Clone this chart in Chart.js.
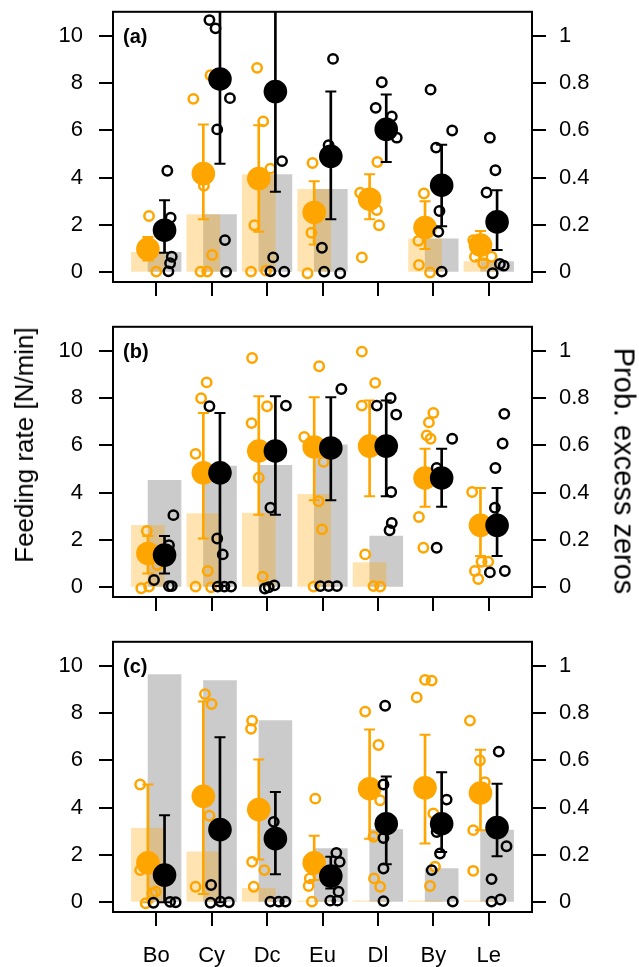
<!DOCTYPE html>
<html>
<head>
<meta charset="utf-8">
<script src="https://cdn.jsdelivr.net/npm/chart.js@4.4.1/dist/chart.umd.min.js"></script>
<style>
  html, body { margin: 0; padding: 0; background: #fff; }
  #wrap { position: relative; width: 639px; height: 967px; font-family: "Liberation Sans", Arial, sans-serif; color: #000; }
  #wrap canvas { position: absolute; left: 0; }
  .tag { position: absolute; left: 123px; font-size: 20px; font-weight: bold; line-height: 20px; }
  .ytitle { position: absolute; line-height: 1; white-space: nowrap; }
</style>
</head>
<body>
<div id="wrap">
  <canvas id="pa" width="639" height="315" style="top:0px"></canvas>
  <canvas id="pb" width="639" height="315" style="top:315px"></canvas>
  <canvas id="pc" width="639" height="337" style="top:630px"></canvas>
  <div class="tag" style="top:26px">(a)</div>
  <div class="tag" style="top:341px">(b)</div>
  <div class="tag" style="top:656px">(c)</div>
  <div class="ytitle" style="font-size:26px; left:24px; top:445px; transform:translate(-50%,-50%) rotate(-90deg)">Feeding rate [N/min]</div>
  <div class="ytitle" style="font-size:29px; left:624px; top:471px; transform:translate(-50%,-50%) rotate(90deg)">Prob. excess zeros</div>
</div>
<script>
const categories = ["Bo", "Cy", "Dc", "Eu", "Dl", "By", "Le"];
const leftTicks = [0, 2, 4, 6, 8, 10];
const rightTicks = [0, 0.2, 0.4, 0.6, 0.8, 1];
const rightTickLabels = ["0", "0.2", "0.4", "0.6", "0.8", "1"];

// --- panel (a) ---
const barOrangeA = [0.084, 0.244, 0.413, 0.351, 0, 0.141, 0.045];
const barGrayA = [0.084, 0.244, 0.413, 0.351, 0, 0.141, 0.045];
const meanOrangeA = [0.98, 4.17, 3.96, 2.53, 3.09, 1.89, 1.15];
const lowOrangeA = [0.50, 2.24, 1.71, 1.17, 2.24, 0.98, 0.52];
const highOrangeA = [1.49, 6.25, 6.22, 3.85, 4.14, 3.00, 1.75];
const meanBlackA = [1.78, 8.17, 7.64, 4.90, 6.04, 3.68, 2.13];
const lowBlackA = [0.83, 4.59, 3.40, 2.24, 4.66, 1.95, 0.94];
const highBlackA = [3.05, 12.5, 12.5, 7.64, 7.51, 5.39, 3.47];
const rawOrangeA = [
  [0.87, 2.38], [1.00, 0.03], [0.77, 1.00], [0.85, 0.80],
  [1.67, 7.33], [1.98, 8.33], [1.86, 3.66], [2.01, 0.73], [1.80, 0.03], [1.92, 0.03],
  [2.82, 8.64], [2.93, 6.38], [3.06, 4.38], [2.77, 1.99], [2.71, 0.03], [2.98, 0.07],
  [3.82, 4.62], [3.80, 1.67], [3.73, -0.04],
  [4.68, 3.36], [4.98, 2.63], [5.02, 1.99], [4.71, 0.63], [4.99, 4.66],
  [5.83, 3.33], [5.73, 1.33], [5.74, 0.31], [5.94, -0.01],
  [6.72, 1.36], [6.75, 0.66], [6.90, 0.38], [7.05, 0.66], [6.85, 1.20]
];
const rawBlackA = [
  [1.20, 4.29], [1.26, 2.31], [1.28, 0.66], [1.25, 0.38], [1.22, 0.04],
  [1.96, 10.66], [2.07, 10.31], [2.33, 7.36], [2.10, 6.04], [2.24, 1.36], [2.26, 0.02],
  [3.27, 4.70], [3.11, 0.63], [3.06, 0.04], [3.31, 0.03],
  [4.19, 9.02], [4.11, 5.37], [3.99, 1.04], [4.03, 0.03], [4.32, -0.04],
  [5.07, 8.03], [4.96, 6.95], [5.25, 6.59], [5.34, 5.69],
  [5.95, 7.72], [6.34, 5.99], [6.05, 5.27], [6.11, 2.59], [6.09, 1.71], [6.15, 0.03],
  [7.02, 5.69], [7.12, 4.31], [6.96, 3.37], [7.20, 0.35], [7.27, 0.28], [7.07, -0.04]
];

// --- panel (b) ---
const barOrangeB = [0.262, 0.312, 0.314, 0.393, 0.105, 0, 0];
const barGrayB = [0.452, 0.512, 0.515, 0.602, 0.217, 0, 0];
const meanOrangeB = [1.43, 4.84, 5.76, 5.93, 5.97, 4.62, 2.62];
const lowOrangeB = [0.58, 2.06, 3.07, 3.68, 3.85, 3.40, 1.32];
const highOrangeB = [2.17, 7.37, 8.07, 8.03, 7.90, 5.86, 4.20];
const meanBlackB = [1.36, 4.84, 5.76, 5.89, 5.97, 4.62, 2.62];
const lowBlackB = [0.58, 0.05, 3.07, 3.68, 3.85, 3.40, 1.32];
const highBlackB = [2.17, 7.37, 8.07, 8.03, 7.90, 5.86, 4.20];
const rawOrangeB = [
  [0.83, 2.38], [1.02, 0.94], [0.73, -0.04], [0.87, 0.03],
  [1.91, 8.66], [1.81, 7.99], [1.71, 5.64], [1.93, 0.69], [1.71, 0.03], [1.99, 0.00],
  [2.73, 9.69], [3.00, 7.65], [2.72, 6.94], [2.85, 4.63], [2.92, 0.45],
  [3.94, 9.34], [3.67, 6.35], [4.02, 5.30], [3.93, 3.64], [3.99, 2.45], [3.84, 0.03],
  [4.71, 9.96], [4.95, 8.64], [4.71, 7.68], [4.77, 1.39], [4.92, 0.05], [5.04, 0.03],
  [6.00, 7.37], [5.92, 6.97], [5.88, 6.42], [5.95, 6.28], [5.74, 2.97], [5.82, 1.67],
  [6.70, 4.03], [6.87, 1.08], [6.75, 0.69], [6.81, 0.35], [6.99, 1.08]
];
const rawBlackB = [
  [1.31, 3.05], [1.23, 1.78], [0.96, 0.31], [1.28, 0.05], [1.23, 0.05], [1.20, 1.22],
  [1.96, 7.65], [2.10, 2.06], [2.20, 1.39], [2.11, 0.03], [2.23, 0.03], [2.35, 0.03],
  [3.34, 7.68], [3.06, 3.36], [2.96, -0.05], [3.03, 0.00], [3.13, 0.08],
  [4.34, 8.38], [3.96, 0.05], [4.11, 0.05], [4.26, 0.05],
  [4.98, 7.68], [5.23, 8.00], [5.33, 7.30], [5.24, 4.03], [5.25, 2.72], [5.21, 2.41],
  [6.34, 6.28], [6.06, 5.04], [6.06, 1.67],
  [7.28, 7.33], [7.25, 6.08], [7.12, 5.04], [7.11, 3.36], [7.02, 0.63], [7.29, 0.69]
];

// --- panel (c) ---
const barOrangeC = [0.314, 0.213, 0.059, 0.006, 0.006, 0.006, 0.006];
const barGrayC = [0.962, 0.937, 0.768, 0.227, 0.307, 0.143, 0.305];
const meanOrangeC = [1.67, 4.48, 3.92, 1.67, 4.80, 4.84, 4.62];
const lowOrangeC = [0.00, 0.35, 1.81, 0.94, 2.69, 2.49, 3.05];
const highOrangeC = [4.98, 8.49, 6.04, 2.81, 7.30, 7.08, 6.45];
const meanBlackC = [1.15, 3.07, 2.69, 1.11, 3.32, 3.32, 3.16];
const lowBlackC = [0.00, 0.00, 1.19, 0.58, 1.61, 2.13, 1.95];
const highBlackC = [3.68, 6.98, 4.66, 1.92, 5.32, 5.50, 5.01];
const rawOrangeC = [
  [0.71, 4.98], [0.71, 1.36], [0.99, 0.45], [0.93, 0.38], [0.81, -0.04],
  [1.88, 8.80], [2.00, 8.38], [1.96, 3.66], [1.71, 0.66],
  [2.73, 7.68], [2.71, 7.33], [2.73, 1.71], [2.95, 1.36], [2.76, 0.66],
  [3.87, 4.38], [3.77, 1.01], [3.75, 0.69], [3.81, 0.03],
  [4.77, 8.06], [5.01, 6.65], [5.04, 4.31], [4.92, 2.77], [4.93, 1.01], [5.04, 0.66],
  [5.85, 9.40], [5.97, 9.37], [5.70, 8.66], [6.00, 3.75], [6.03, 1.50], [5.94, 0.69],
  [6.66, 7.68], [6.84, 5.99], [6.93, 5.08], [6.72, 3.05], [6.72, 1.33]
];
const rawBlackC = [
  [0.95, -0.02], [1.25, 0.02], [1.35, 0.00],
  [1.99, 0.73], [1.98, -0.02], [2.16, 0.03], [2.31, 0.00],
  [3.12, 3.40], [3.06, 0.03], [3.21, 0.03], [3.33, 0.03],
  [4.25, 2.09], [4.31, 1.71], [4.29, 0.45], [4.14, 0.07], [4.27, 0.07],
  [5.13, 8.31], [5.10, 4.98], [5.10, 2.72], [5.10, 1.43], [5.10, 0.05],
  [6.24, 4.34], [6.06, 2.97], [6.12, 2.06], [5.97, 1.36], [6.35, 0.03],
  [7.18, 6.37], [7.32, 2.37], [7.05, 0.98], [7.05, 0.03], [7.21, 0.12]
];

const ORANGE = "#FFA500";
const SHIFT = 0.15;       // orange left of the category, black right
const Y_MIN = -0.41, Y_MAX = 11.01;
const X_MIN = 0.22, X_MAX = 7.78;
const FONT = "'Liberation Sans', Arial, sans-serif";

// frame round the plot region
const boxPlugin = {
  id: "box",
  afterDraw(chart) {
    const a = chart.chartArea, ctx = chart.ctx;
    ctx.save();
    ctx.strokeStyle = "#000";
    ctx.lineWidth = 2;
    ctx.strokeRect(a.left, a.top, a.right - a.left, a.bottom - a.top);
    ctx.restore();
  }
};

function errorSets(xs, lows, highs, color, order) {
  return [
    {
      type: "bar", order,
      data: xs.map((x, i) => ({ x, y: [lows[i], highs[i]] })),
      backgroundColor: color, barThickness: 2, grouped: false, borderWidth: 0
    },
    {
      type: "scatter", order,
      data: xs.flatMap((x, i) => [{ x, y: lows[i] }, { x, y: highs[i] }]),
      pointStyle: "line", pointRadius: 5.5, pointBorderWidth: 2,
      pointBorderColor: color, pointBackgroundColor: color
    }
  ];
}

function drawPanel(id, p, axisHeight, showLabels) {
  const xo = categories.map((c, i) => i + 1 - SHIFT);
  const xb = categories.map((c, i) => i + 1 + SHIFT);
  const pts = arr => arr.map(([x, y]) => ({ x, y }));
  // empty bars are left out altogether
  const bars = (xs, vals) => xs.map((x, i) => ({ x, y: vals[i] > 0 ? vals[i] : null }));

  const datasets = [
    { type: "bar", yAxisID: "y2", order: 30, data: bars(xb, p.barGray),
      backgroundColor: "#cbcbcb", barThickness: 33, grouped: false, borderWidth: 0 },
    { type: "bar", yAxisID: "y2", order: 29, data: bars(xo, p.barOrange),
      backgroundColor: "rgba(255,165,0,0.3)", barThickness: 33, grouped: false, borderWidth: 0 },
    { type: "scatter", order: 20, data: pts(p.rawOrange),
      pointRadius: 4.7, pointBorderWidth: 2.5, pointBorderColor: ORANGE, pointBackgroundColor: "rgba(0,0,0,0)" },
    ...errorSets(xo, p.lowOrange, p.highOrange, ORANGE, 19),
    { type: "scatter", order: 18, data: xo.map((x, i) => ({ x, y: p.meanOrange[i] })),
      pointRadius: 11.8, pointBorderWidth: 0, pointBackgroundColor: ORANGE, pointBorderColor: ORANGE },
    { type: "scatter", order: 10, data: pts(p.rawBlack),
      pointRadius: 4.7, pointBorderWidth: 2.5, pointBorderColor: "#000", pointBackgroundColor: "rgba(0,0,0,0)" },
    ...errorSets(xb, p.lowBlack, p.highBlack, "#000", 9),
    { type: "scatter", order: 8, data: xb.map((x, i) => ({ x, y: p.meanBlack[i] })),
      pointRadius: 11.8, pointBorderWidth: 0, pointBackgroundColor: "#000", pointBorderColor: "#000" }
  ];

  const tickFont = { family: FONT, size: 22, lineHeight: 1.2 };
  const gridOpts = { drawOnChartArea: false, color: "#000", lineWidth: 2, tickLength: 14, offset: false };

  new Chart(document.getElementById(id), {
    type: "bar",
    data: { datasets },
    options: {
      responsive: false,
      animation: false,
      events: [],
      layout: { padding: { top: 11, left: 0, right: 0, bottom: 0 } },
      plugins: { legend: { display: false }, tooltip: { enabled: false } },
      scales: {
        x: {
          type: "linear", min: X_MIN, max: X_MAX, offset: false,
          afterBuildTicks: s => { s.ticks = categories.map((c, i) => ({ value: i + 1 })); },
          afterFit: s => { s.height = axisHeight; s.paddingLeft = 0; s.paddingRight = 0; },
          ticks: { autoSkip: false, maxRotation: 0, color: "#000", font: tickFont, padding: 17,
                   callback: (v, i) => showLabels ? categories[i] : "" },
          grid: gridOpts,
          border: { display: false }
        },
        y: {
          type: "linear", position: "left", min: Y_MIN, max: Y_MAX,
          afterBuildTicks: s => { s.ticks = leftTicks.map(v => ({ value: v })); },
          afterFit: s => { s.width = 113; s.paddingTop = 0; s.paddingBottom = 0; },
          ticks: { color: "#000", font: tickFont, padding: 16, callback: (v, i) => String(leftTicks[i]) },
          grid: gridOpts,
          border: { display: false }
        },
        y2: {
          type: "linear", position: "right", min: Y_MIN / 10, max: Y_MAX / 10,
          afterBuildTicks: s => { s.ticks = rightTicks.map(v => ({ value: v })); },
          afterFit: s => { s.width = 107; s.paddingTop = 0; s.paddingBottom = 0; },
          ticks: { color: "#000", font: tickFont, padding: 13, callback: (v, i) => rightTickLabels[i] },
          grid: gridOpts,
          border: { display: false }
        }
      }
    },
    plugins: [boxPlugin]
  });
}

drawPanel("pa", {
  barOrange: barOrangeA, barGray: barGrayA,
  meanOrange: meanOrangeA, lowOrange: lowOrangeA, highOrange: highOrangeA,
  meanBlack: meanBlackA, lowBlack: lowBlackA, highBlack: highBlackA,
  rawOrange: rawOrangeA, rawBlack: rawBlackA
}, 33, false);

drawPanel("pb", {
  barOrange: barOrangeB, barGray: barGrayB,
  meanOrange: meanOrangeB, lowOrange: lowOrangeB, highOrange: highOrangeB,
  meanBlack: meanBlackB, lowBlack: lowBlackB, highBlack: highBlackB,
  rawOrange: rawOrangeB, rawBlack: rawBlackB
}, 33, false);

drawPanel("pc", {
  barOrange: barOrangeC, barGray: barGrayC,
  meanOrange: meanOrangeC, lowOrange: lowOrangeC, highOrange: highOrangeC,
  meanBlack: meanBlackC, lowBlack: lowBlackC, highBlack: highBlackC,
  rawOrange: rawOrangeC, rawBlack: rawBlackC
}, 55, true);
</script>
</body>
</html>
